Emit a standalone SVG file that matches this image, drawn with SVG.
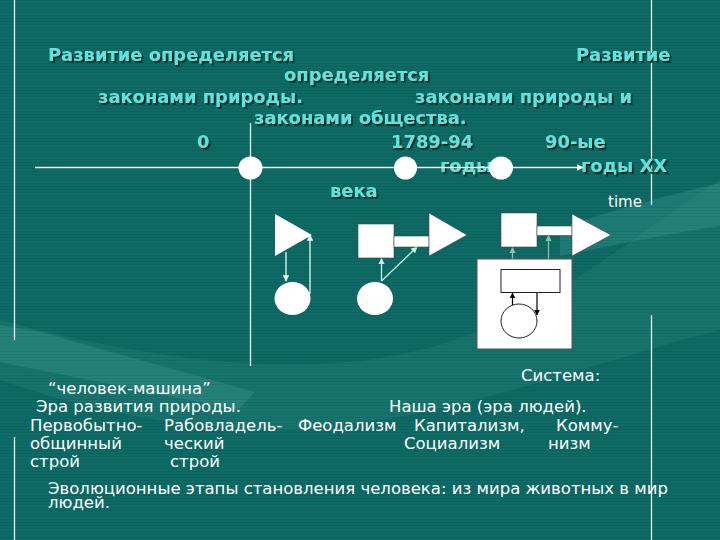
<svg xmlns="http://www.w3.org/2000/svg" width="720" height="540" viewBox="0 0 720 540">
  <defs>
    <pattern id="scan" width="4" height="3" patternUnits="userSpaceOnUse">
      <rect width="4" height="1" fill="#000" opacity="0.07"/>
    </pattern>
    <filter id="shadow" x="-5%" y="-20%" width="110%" height="150%">
      <feDropShadow dx="1.8" dy="1.8" stdDeviation="0.3" flood-color="#032a26" flood-opacity="1"/>
    </filter>
    <marker id="ahW" viewBox="0 0 10 10" refX="9" refY="5" markerWidth="5" markerHeight="5" orient="auto">
      <path d="M0,0 L10,5 L0,10 z" fill="#eef8f6"/>
    </marker>
    <marker id="ahC" viewBox="0 0 10 10" refX="9" refY="5" markerWidth="5" markerHeight="5" orient="auto">
      <path d="M0,0 L10,5 L0,10 z" fill="#c6efe8"/>
    </marker>
    <marker id="ahG" viewBox="0 0 10 10" refX="9" refY="5" markerWidth="5" markerHeight="5" orient="auto">
      <path d="M0,0 L10,5 L0,10 z" fill="#86c49a"/>
    </marker>
    <marker id="ahB" viewBox="0 0 10 10" refX="9" refY="5" markerWidth="5" markerHeight="5" orient="auto">
      <path d="M0,0 L10,5 L0,10 z" fill="#000"/>
    </marker>
    <marker id="ahAxis" viewBox="0 0 10 10" refX="9" refY="5" markerWidth="5" markerHeight="5" orient="auto">
      <path d="M0,0 L10,5 L0,10 z" fill="#ffffff"/>
    </marker>
  </defs>
  <style>
    .title { font-family: "DejaVu Sans", Verdana, sans-serif; font-weight: bold; font-size: 17.9px; fill: #62e2da; filter: url(#shadow); }
    .body { font-family: "DejaVu Sans", "Liberation Sans", sans-serif; font-size: 16.5px; fill: #ffffff; }
    .guide { stroke: #e8f2f0; stroke-width: 1.3; fill: none; }
    .wline { stroke: #eef8f6; stroke-width: 1.3; fill: none; }
    .cline { stroke: #c6efe8; stroke-width: 1.3; fill: none; }
    .gline { stroke: #86c49a; stroke-width: 1.3; fill: none; }
    .bline { stroke: #000; stroke-width: 1.2; fill: none; }
  </style>

  <!-- background -->
  <rect width="720" height="540" fill="#0d6a64"/>
  <path d="M0,320 C150,360 300,380 420,350 C540,320 640,230 720,180 L720,330 C600,360 450,420 300,430 C150,430 60,400 0,380 Z" fill="#2a8a84" opacity="0.3"/>
  <path d="M0,325 L40,332 L255,392 L238,410 L0,362 Z" fill="#3a9892" opacity="0.4"/>
  <path d="M560,228 C620,208 680,192 720,183 L720,226 C670,233 610,246 560,256 Z" fill="#3a9892" opacity="0.4"/>
  <rect width="720" height="540" fill="url(#scan)"/>

  <!-- frame guide lines -->
  <g id="frame">
    <line class="guide" x1="14.5" y1="0" x2="14.5" y2="340"/>
    <line class="guide" x1="14.5" y1="437" x2="14.5" y2="540"/>
    <line class="guide" x1="651.5" y1="0" x2="651.5" y2="205"/>
    <line class="guide" x1="651.5" y1="315" x2="651.5" y2="540"/>
  </g>

  <!-- headings -->
  <g id="headings">
    <text class="title" x="48" y="61">Развитие определяется</text>
    <text class="title" x="576" y="61">Развитие</text>
    <text class="title" x="284" y="81">определяется</text>
    <text class="title" x="98" y="103">законами природы.</text>
    <text class="title" x="415" y="103">законами природы и</text>
    <text class="title" x="254" y="124">законами общества.</text>
    <text class="title" x="197" y="148">0</text>
    <text class="title" x="391" y="148">1789-94</text>
    <text class="title" x="545" y="148">90-ые</text>
    <text class="title" x="440" y="172">годы</text>
    <text class="title" x="581" y="172">годы XX</text>
    <text class="title" x="330" y="197">века</text>
    <text class="body" x="608" y="207" style="font-size:15px">time</text>
  </g>

  <!-- connectors -->
  <g id="connectors">
    <line class="guide" x1="35" y1="167.5" x2="583" y2="167.5" marker-end="url(#ahAxis)"/>
    <line class="guide" x1="250.5" y1="123" x2="250.5" y2="366"/>
    <line class="wline" x1="286" y1="252" x2="286" y2="281" marker-end="url(#ahW)"/>
    <line class="wline" x1="310" y1="294" x2="310" y2="235" marker-end="url(#ahW)"/>
    <line class="cline" x1="381.5" y1="281" x2="381.5" y2="258.5" marker-end="url(#ahC)"/>
    <line class="cline" x1="381.5" y1="281" x2="417" y2="247" marker-end="url(#ahC)"/>
    <line class="gline" x1="512.5" y1="269" x2="512.5" y2="247.5" marker-end="url(#ahG)"/>
    <line class="gline" x1="548.5" y1="269" x2="548.5" y2="235.5" marker-end="url(#ahG)"/>
  </g>

  <!-- timeline points -->
  <g id="point-0"><ellipse cx="250.5" cy="168" rx="12" ry="11.5" fill="#fff"/></g>
  <g id="point-1789"><ellipse cx="405.5" cy="168" rx="11.5" ry="11.5" fill="#fff"/></g>
  <g id="point-90s"><ellipse cx="501" cy="168" rx="12" ry="11.5" fill="#fff"/></g>

  <!-- stage 1 -->
  <g id="stage1-triangle"><polygon points="275,214 275,256 312,235" fill="#fff"/></g>
  <g id="stage1-circle"><ellipse cx="292.5" cy="298.5" rx="18" ry="16.5" fill="#fff"/></g>

  <!-- stage 2 -->
  <g id="stage2-square"><rect x="358" y="224" width="36" height="34" fill="#fff" stroke="#444" stroke-width="0.6"/></g>
  <g id="stage2-bar"><rect x="394" y="236" width="35" height="11" fill="#fff" stroke="#444" stroke-width="0.6"/></g>
  <g id="stage2-triangle"><polygon points="429,213 429,256 467,235" fill="#fff" stroke="#444" stroke-width="0.6"/></g>
  <g id="stage2-circle"><ellipse cx="375" cy="298.5" rx="18" ry="16.5" fill="#fff"/></g>

  <!-- stage 3 -->
  <g id="stage3-square"><rect x="501" y="213" width="36" height="34" fill="#fff" stroke="#444" stroke-width="0.6"/></g>
  <g id="stage3-bar"><rect x="537" y="226" width="35" height="9.5" fill="#fff" stroke="#444" stroke-width="0.6"/></g>
  <g id="stage3-triangle"><polygon points="572,214 572,256 611,235" fill="#fff" stroke="#444" stroke-width="0.6"/></g>
  <g id="stage3-system">
    <rect x="477" y="259" width="95" height="90" fill="#fff" stroke="#555" stroke-width="1"/>
    <rect x="501" y="269.5" width="59" height="23" fill="#fff" stroke="#222" stroke-width="1"/>
    <ellipse cx="519" cy="321" rx="18" ry="17" fill="#fff" stroke="#222" stroke-width="1"/>
    <line class="bline" x1="512.5" y1="305" x2="512.5" y2="293" marker-end="url(#ahB)"/>
    <line class="bline" x1="537" y1="293" x2="537" y2="315" marker-end="url(#ahB)"/>
  </g>

  <!-- bottom texts -->
  <g id="captions">
    <text class="body" x="521" y="381">Система:</text>
    <text class="body" x="48" y="394">“человек-машина”</text>
    <text class="body" x="36" y="412">Эра развития природы.</text>
    <text class="body" x="389" y="412">Наша эра (эра людей).</text>
    <text class="body" x="30" y="431">Первобытно-</text>
    <text class="body" x="164" y="431">Рабовладель-</text>
    <text class="body" x="298" y="431">Феодализм</text>
    <text class="body" x="414" y="431">Капитализм,</text>
    <text class="body" x="556" y="431">Комму-</text>
    <text class="body" x="30" y="449">общинный</text>
    <text class="body" x="164" y="449">ческий</text>
    <text class="body" x="404" y="449">Социализм</text>
    <text class="body" x="548" y="449">низм</text>
    <text class="body" x="30" y="467">строй</text>
    <text class="body" x="170" y="467">строй</text>
    <text class="body" x="48" y="494">Эволюционные этапы становления человека: из мира животных в мир</text>
    <text class="body" x="48" y="508">людей.</text>
  </g>
</svg>
